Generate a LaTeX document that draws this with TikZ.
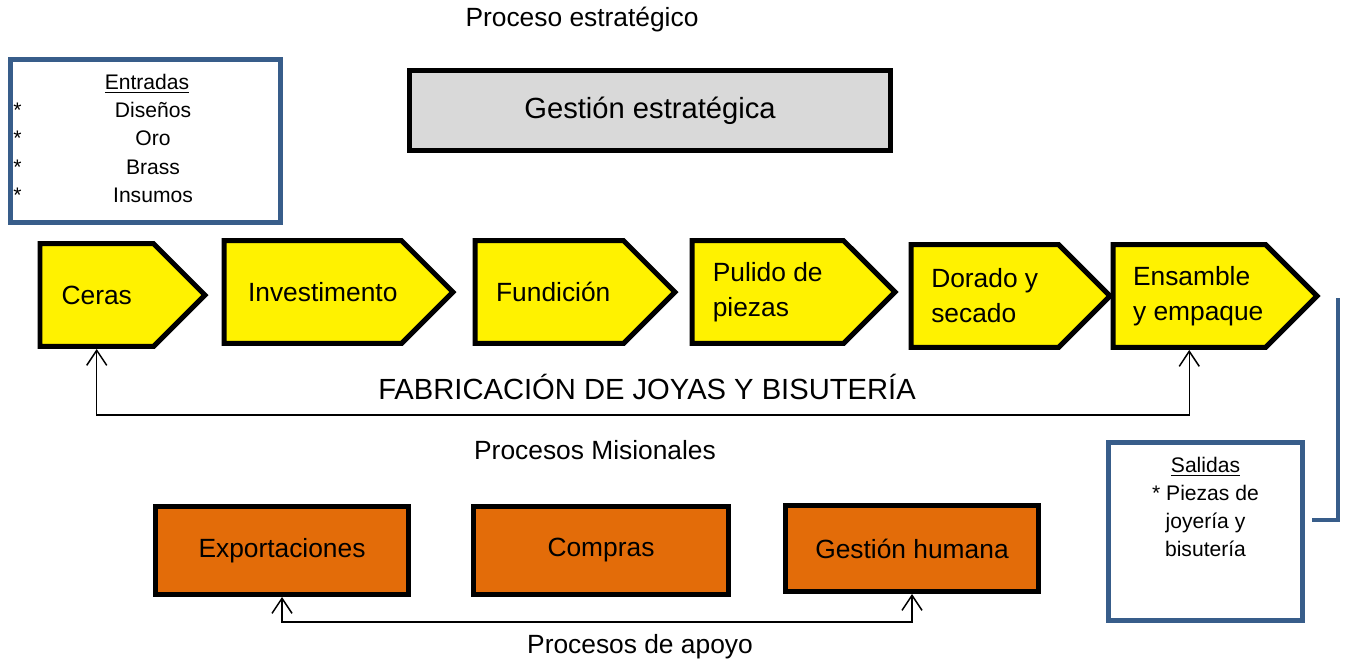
\documentclass[tikz,border=0pt]{standalone}
\usepackage{fontspec}
\setmainfont{Liberation Sans}
\usetikzlibrary{shapes.symbols,arrows.meta}
\definecolor{boxblue}{HTML}{385D8A}
\definecolor{naranja}{HTML}{E36C09}
\definecolor{gris}{HTML}{D9D9D9}
\begin{document}
\begin{tikzpicture}[x=0.02cm, y=-0.02cm,
        etapa/.style = {shape=signal, signal to=east, signal pointer angle=90,
            draw, fill=yellow, line width=0.1cm, minimum height=2.06cm, inner xsep=0pt,
            align=left, anchor=west, font=\fontsize{15}{20}\selectfont},
        apoyo/.style = {draw, fill=naranja, line width=0.1cm, minimum width=5.06cm,
            minimum height=1.76cm, font=\fontsize{15}{18}\selectfont},
        lista/.style = {draw=boxblue, line width=0.09cm},
        small/.style = {font=\fontsize{12}{16}\selectfont, inner sep=0pt},
        titulo/.style = {font=\fontsize{15}{18}\selectfont},
        flecha/.style = {line width=0.03cm,
            {Straight Barb[length=0.3cm,width=0.4cm]}-{Straight Barb[length=0.3cm,width=0.4cm]}}
    ]
        \useasboundingbox (0,0) rectangle (1348,663);
        \node[titulo] (estr) at (582,20) {Proceso estratégico};
        \node[draw, fill=gris, line width=0.1cm, minimum width=9.62cm, minimum height=1.6cm,
            font=\fontsize{16.6}{20}\selectfont] (gestion) at (650,110.5) {Gestión estratégica};
        % entradas
        \node[lista, minimum width=5.4cm, minimum height=3.26cm] (entradas) at (145.5,141) {};
        \node[small, anchor=base] (ent) at (147,89.5) {\underline{Entradas}};
        \foreach \y/\txt/\n in {117.5/Diseños/e1, 145.5/Oro/e2, 174/Brass/e3, 202/Insumos/e4} {
            \node[small, anchor=base west] (s\n) at (13,\y) {*};
            \node[small, anchor=base] (\n) at (153,\y) {\txt};
        }
        % procesos misionales
        \node[etapa, minimum width=3.3cm] (ceras) at (37.5,295) {Ceras};
        \node[etapa, minimum width=4.58cm] (invest) at (221.5,292) {\hspace*{0.4cm}Investimento};
        \node[etapa, minimum width=4cm] (fundicion) at (472.5,292) {\hspace*{0.16cm}Fundición};
        \node[etapa, minimum width=4.06cm] (pulido) at (689.5,292) {Pulido de\\piezas};
        \node[etapa, minimum width=3.98cm] (dorado) at (908.5,296) {Dorado y\\secado};
        \node[etapa, minimum width=4.08cm] (ensamble) at (1110.5,296) {\hspace*{0.36cm}Ensamble\\\hspace*{0.36cm}y empaque};
        \draw[flecha] (ceras.south) -- (ceras.south |- 0,415) -| (ensamble.south);
        \node[font=\fontsize{16.6}{20}\selectfont] (fab) at (647,387) {FABRICACIÓN DE JOYAS Y BISUTERÍA};
        \node[titulo] (mision) at (595,450) {Procesos Misionales};
        % salidas
        \node[lista, minimum width=3.88cm, minimum height=3.56cm] (salidas) at (1205.5,531.5) {};
        \node[small, align=center, anchor=north] (sal) at (1205.5,457) {\underline{Salidas}\\* Piezas de\\joyería y\\bisutería};
        \coordinate (cout) at (1338,298);
        \coordinate (cin) at (1312,520);
        \draw[boxblue, line width=0.08cm] (cout) |- (cin);
        % procesos de apoyo
        \node[apoyo] (export) at (282,550.5) {Exportaciones};
        \node[apoyo, minimum width=5.1cm] (compras) at (601,550.5) {Compras};
        \node[apoyo, minimum height=1.72cm] (humana) at (912,548.5) {Gestión humana};
        \draw[flecha] (export.south) -- (export.south |- 0,622) -| (humana.south);
        \node[titulo] (apoyo) at (640,647) {Procesos de apoyo};
\end{tikzpicture}
\end{document}
